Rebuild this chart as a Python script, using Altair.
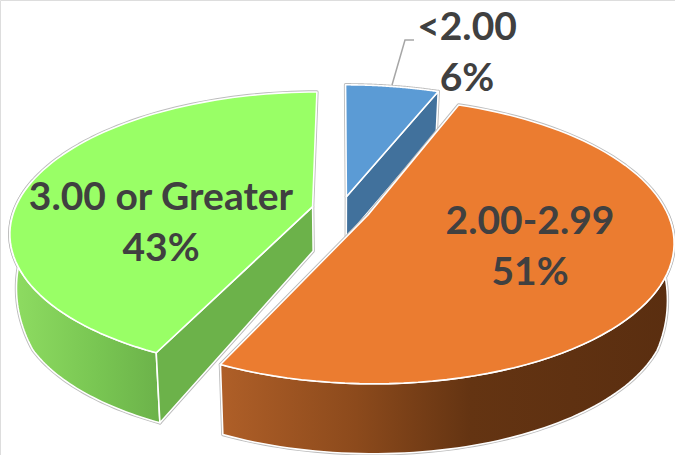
import math
import altair as alt

categories = ["<2.00", "2.00-2.99", "3.00 or Greater"]
shares = [6, 51, 43]

# Plane-to-screen projection of the tilted pie
CX, CY, RX, RY, PERSP = 341.0, 209.6, 298.0, 136.3, 0.18
EXPLODE = 0.098

TOP_FILL = ["#5B9BD5", "#EB7C30", "#99FF66"]
CUT_FILL = ["#41719C", "#41719C", "#6CB24A"]
RIM_STOPS = [
    [(0, "#41719C"), (1, "#41719C")],
    [(0, "#AF5F28"), (0.3, "#8C4A1C"), (0.55, "#643412"), (1, "#5A2E10")],
    [(0, "#8FDD62"), (0.6, "#78C552"), (1, "#6CB24A")],
]
# Vertical centre of each label's first line
LABEL_POS = [(467, 28), (530, 222), (161, 198)]


def project(theta, phi):
    """Screen position of a rim angle for a slice pushed out along phi."""
    u = math.sin(theta) + EXPLODE * math.sin(phi)
    v = math.cos(theta) + EXPLODE * math.cos(phi)
    w = 1 + PERSP * v
    return CX + RX * u / w, CY - RY * v / w


def tip(phi):
    u = EXPLODE * math.sin(phi)
    v = EXPLODE * math.cos(phi)
    w = 1 + PERSP * v
    return CX + RX * u / w, CY - RY * v / w


def drop(p):
    """Lower edge below a point on the top face."""
    x, y = p
    dy = 41 if y < 197 else min(70, 41 + (y - 197) * 0.35)
    return x - (x - 340) * 0.02, y + dy


def arc(a0, a1, phi, n=80):
    return [project(a0 + (a1 - a0) * i / n, phi) for i in range(n + 1)]


def feature(points, closed=True):
    pts = [list(p) for p in points]
    if closed:
        pts = pts + [pts[0]]
        geom = {"type": "Polygon", "coordinates": [pts]}
    else:
        geom = {"type": "LineString", "coordinates": pts}
    return {"type": "Feature", "geometry": geom, "properties": {}}


def shape(points, fill, stroke, width):
    data = alt.Data(
        values={"type": "FeatureCollection", "features": [feature(points)]},
        format=alt.DataFormat(property="features"),
    )
    return (
        alt.Chart(data)
        .mark_geoshape(fill=fill, stroke=stroke, strokeWidth=width, strokeJoin="round")
        .project(type="identity", scale=1, translate=[0, 0])
    )


def gradient(stops):
    return alt.LinearGradient(
        gradient="linear", x1=0, x2=1, y1=0, y2=0,
        stops=[alt.GradientStop(offset=o, color=c) for o, c in stops],
    )


total = sum(shares)
edges = [0.0]
for s in shares:
    edges.append(edges[-1] + s / total * 2 * math.pi)

faces = {}
for i, (a0, a1) in enumerate(zip(edges[:-1], edges[1:])):
    phi = (a0 + a1) / 2
    t = tip(phi)
    parts = []
    # front-facing part of the outer wall
    lo, hi = max(a0, math.pi * 0.5), min(a1, math.pi * 1.5 + 0.2)
    if hi > lo:
        upper = arc(lo, hi, phi)
        parts.append(("rim", upper + [drop(p) for p in reversed(upper)]))
    # visible cut wall of the slice
    if i == 0:
        end = project(a1, phi)
        parts.append(("cut", [t, end, drop(end), drop(t)]))
    if i == 2:
        start = project(a0, phi)
        parts.append(("cut", [t, start, drop(start), drop(t)]))
    parts.append(("top", [t] + arc(a0, a1, phi)))
    faces[i] = parts

layers = []
for i in [2, 0, 1]:
    for kind, pts in faces[i]:
        layers.append(shape(pts, "#BDBDBD", "#BDBDBD", 3.4))
    for kind, pts in faces[i]:
        fill = {"rim": gradient(RIM_STOPS[i]), "cut": CUT_FILL[i], "top": TOP_FILL[i]}[kind]
        layers.append(shape(pts, fill, "#FFFFFF", 1.6))

# Leader line for the small slice
leader = alt.Data(
    values={"type": "FeatureCollection",
            "features": [feature([(392, 85), (405, 40), (414, 40)], closed=False)]},
    format=alt.DataFormat(property="features"),
)
layers.append(
    alt.Chart(leader)
    .mark_geoshape(filled=False, stroke="#A6A6A6", strokeWidth=1.5)
    .project(type="identity", scale=1, translate=[0, 0])
)

for name, value, (x, y) in zip(categories, shares, LABEL_POS):
    layers.append(
        alt.Chart(alt.Data(values=[{"label": f"{name}\n{value}%"}]))
        .mark_text(font="Lato", fontWeight="bold", fontSize=39, color="#404040",
                   lineBreak="\n", lineHeight=51, align="center", baseline="middle")
        .encode(text="label:N", x=alt.value(x), y=alt.value(y))
    )

chart = (
    alt.layer(*layers)
    .properties(width=675, height=455, padding=0, autosize=alt.AutoSizeParams(type="none"))
    .configure_view(stroke=None)
    .configure(background="#FFFFFF")
)
chart.save("out.html", embed_options={"renderer": "svg", "actions": False})
